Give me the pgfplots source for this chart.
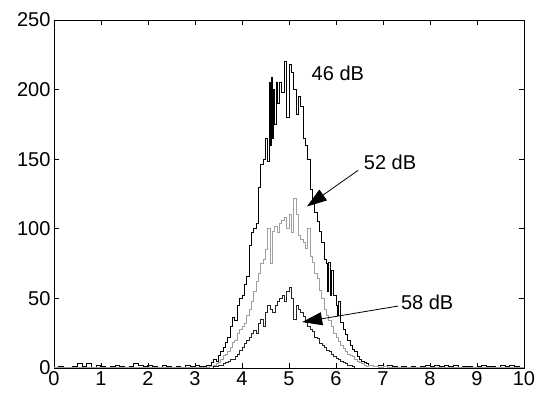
\documentclass[border=0pt]{standalone}
\usepackage{pgfplots}
\pgfplotsset{compat=1.18}
\usepackage{fontspec}
\setmainfont{Liberation Sans}
\usetikzlibrary{arrows.meta}
\pgfplotstableread{
x y
0.0 0
0.1 1
0.2 0
0.3 0
0.4 1
0.5 3
0.6 1
0.7 3
0.8 0
0.9 2
1.0 1
1.1 0
1.2 1
1.3 2
1.4 1
1.5 0
1.6 1
1.7 3
1.8 2
1.9 1
2.0 2
2.1 1
2.2 0
2.3 2
2.4 1
2.5 0
2.6 1
2.7 0
2.8 2
2.9 1
3.0 2
3.1 1
3.20 1
3.25 2
3.30 2
3.35 4
3.40 6
3.45 5
3.50 9
3.55 12
3.60 15
3.65 18
3.70 22
3.75 30
3.80 36
3.85 34
3.90 45
3.95 50
4.00 52
4.05 60
4.10 66
4.15 88
4.20 97
4.25 100
4.30 104
4.35 130
4.40 146
4.45 150
4.50 165
4.55 148
4.575 205
4.60 160
4.625 209
4.65 165
4.675 200
4.70 175
4.725 205
4.75 190
4.80 205
4.85 198
4.90 220
4.95 180
5.00 218
5.05 212
5.10 200
5.15 182
5.20 195
5.25 188
5.30 165
5.35 160
5.40 150
5.45 128
5.50 118
5.55 112
5.60 105
5.65 98
5.70 90
5.75 78
5.80 75
5.825 55
5.85 76
5.875 52
5.90 70
5.95 52
6.00 45
6.025 38
6.05 48
6.10 33
6.15 28
6.20 24
6.25 20
6.30 16
6.35 13
6.40 12
6.45 8
6.50 6
6.55 5
6.60 4
6.65 3
6.70 2
6.75 2
6.80 1
6.85 1
6.90 2
7.0 1
7.1 2
7.2 1
7.3 0
7.4 1
7.5 0
7.6 1
7.7 0
7.8 1
7.9 2
8.0 1
8.1 2
8.2 1
8.3 2
8.4 1
8.5 2
8.6 0
8.7 1
8.8 1
8.9 0
9.0 1
9.1 2
9.2 1
9.3 1
9.4 0
9.5 2
9.6 1
9.7 2
9.8 1
9.9 0
10.0 0
}\dbA
\pgfplotstableread{
x y
0.0 0
3.30 1
3.35 1
3.40 2
3.45 3
3.50 4
3.55 6
3.60 9
3.65 10
3.70 12
3.75 15
3.80 18
3.85 20
3.90 25
3.95 28
4.00 30
4.05 32
4.10 38
4.15 42
4.20 48
4.25 55
4.30 62
4.35 68
4.40 75
4.45 78
4.50 85
4.55 100
4.60 75
4.65 98
4.70 102
4.75 97
4.80 104
4.85 106
4.90 108
4.95 100
5.00 110
5.05 97
5.10 122
5.15 110
5.20 95
5.25 92
5.30 90
5.35 86
5.40 100
5.45 80
5.50 76
5.55 68
5.60 64
5.65 56
5.70 50
5.75 42
5.80 38
5.85 34
5.90 30
5.95 25
6.00 22
6.05 19
6.10 16
6.15 14
6.20 12
6.25 10
6.30 9
6.35 8
6.40 6
6.45 5
6.50 4
6.55 3
6.60 2
6.65 1
6.70 2
6.80 1
6.90 0
7.00 1
7.10 0
10.0 0
}\dbB
\pgfplotstableread{
x y
0.0 0
3.40 1
3.45 1
3.50 2
3.55 2
3.60 3
3.65 4
3.70 5
3.75 6
3.80 6
3.85 8
3.90 10
3.95 13
4.00 15
4.05 18
4.10 20
4.15 22
4.20 25
4.25 27
4.30 25
4.35 32
4.40 35
4.45 30
4.50 40
4.55 45
4.60 42
4.65 40
4.70 45
4.75 48
4.80 50
4.85 52
4.90 48
4.95 55
5.00 58
5.05 50
5.10 35
5.15 45
5.20 42
5.25 40
5.30 37
5.35 33
5.40 30
5.45 28
5.50 26
5.55 22
5.60 21
5.65 18
5.70 16
5.75 15
5.80 13
5.85 12
5.90 10
5.95 8
6.00 7
6.05 6
6.10 5
6.15 4
6.20 3
6.25 2
6.30 2
6.35 1
6.40 0
10.0 0
}\dbC
\begin{document}
\begin{tikzpicture}
\begin{axis}[
  name=ax,
  scale only axis,
  width=470pt, height=348pt,
  xmin=0, xmax=10, ymin=0, ymax=250,
  xtick={0,1,...,10}, ytick={0,50,...,250},
  tick align=inside,
  major tick length=5pt,
  tick style={black, line width=0.6pt},
  axis line style={line width=0.9pt},
  ticklabel style={font=\fontsize{20}{24}\selectfont},
  /pgf/number format/assume math mode=true,
  clip=true,
]
\addplot[const plot, black, line width=1pt] table[x=x,y=y] {\dbA};
\addplot[const plot, gray!75, line width=1pt] table[x=x,y=y] {\dbB};
\addplot[const plot, black!85, line width=0.8pt] table[x=x,y=y] {\dbC};
\node[font=\fontsize{20}{24}\selectfont] at (axis cs:6.04,212) {46 dB};
\node[font=\fontsize{20}{24}\selectfont] at (axis cs:7.15,148) {52 dB};
\node[font=\fontsize{20}{24}\selectfont] at (axis cs:7.94,47) {58 dB};
\draw[line width=0.8pt, -{Triangle[length=20pt,width=13pt]}] (axis cs:6.47,142) -- (axis cs:5.38,116);
\draw[line width=0.8pt, -{Triangle[length=20pt,width=13pt]}] (axis cs:7.32,44.5) -- (axis cs:5.28,33);
\end{axis}
\pgfresetboundingbox
\path ([shift={(-54pt,-25pt)}]ax.south west) rectangle ([shift={(15pt,20pt)}]ax.north east);
\end{tikzpicture}
\end{document}
